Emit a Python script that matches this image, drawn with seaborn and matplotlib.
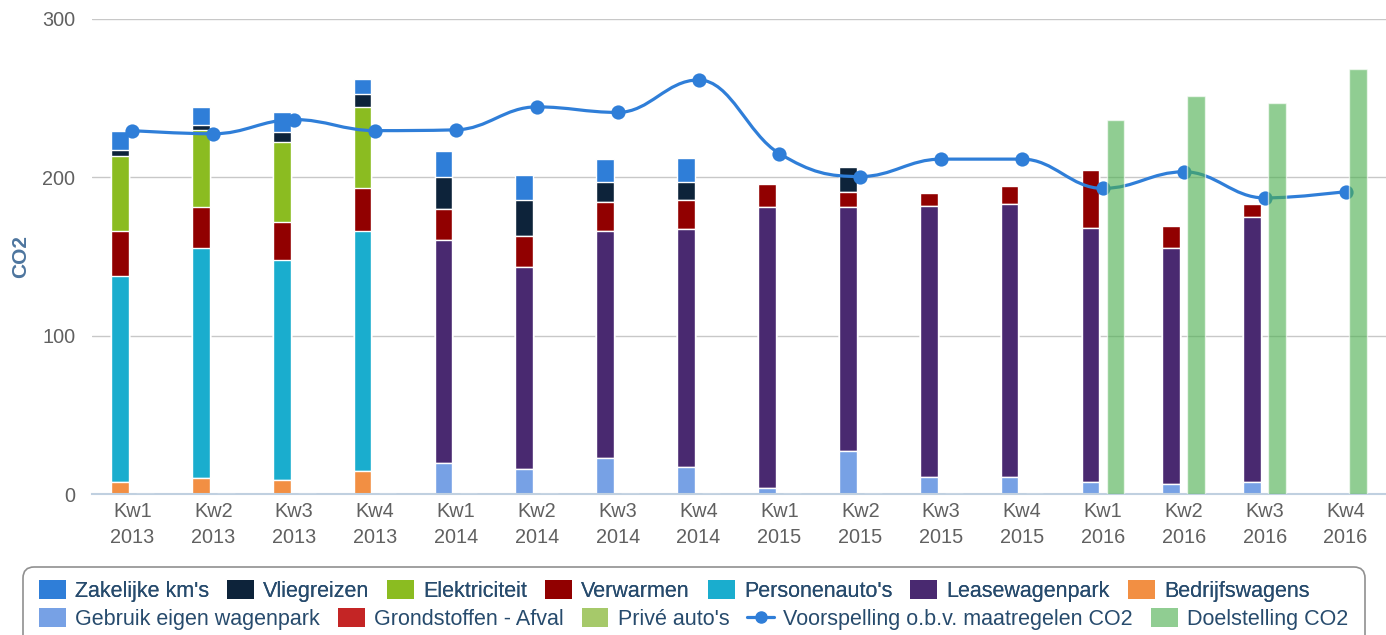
import numpy as np
import matplotlib
matplotlib.use("Agg")
import matplotlib.pyplot as plt
from matplotlib.path import Path
from matplotlib.patches import PathPatch, Patch, FancyBboxPatch
from matplotlib.lines import Line2D
import seaborn as sns

# --- data ---
kwartalen = ["Kw1", "Kw2", "Kw3", "Kw4"] * 4
jaren = ["2013"] * 4 + ["2014"] * 4 + ["2015"] * 4 + ["2016"] * 4

zakelijke_km = [12, 11.5, 13, 9.5, 16, 16, 14.5, 15.5, 0, 0, 0, 0, 0, 0, 0, 0]
vliegreizen = [3.5, 3, 6, 8, 20.5, 22.5, 12.5, 11.5, 0, 16, 0, 0, 0, 0, 0, 0]
elektriciteit = [47.5, 49, 50.5, 51, 0, 0, 0, 0, 0, 0, 0, 0, 0, 0, 0, 0]
verwarmen = [28.5, 25.5, 24, 27.5, 19.5, 19.5, 18.5, 18, 15, 9, 8, 11.5, 36.5, 14, 8, 0]
personenautos = [130, 145.5, 139, 151.5, 0, 0, 0, 0, 0, 0, 0, 0, 0, 0, 0, 0]
leasewagenpark = [0, 0, 0, 0, 141, 127.5, 143.5, 150.5, 177.5, 154.5, 171.5, 172, 160.5, 149, 167.5, 0]
bedrijfswagens = [7.5, 10, 9, 14.5, 0, 0, 0, 0, 0, 0, 0, 0, 0, 0, 0, 0]
eigen_wagenpark = [0, 0, 0, 0, 19.5, 16, 22.5, 17, 3.5, 27, 10.5, 11, 7.5, 6.5, 7.5, 0]
grondstoffen = [0] * 16
prive_autos = [0] * 16
voorspelling = [229.5, 227.5, 236.5, 229.5, 230, 244.5, 241, 261.5,
                215, 200.5, 211.5, 211.5, 193, 203.5, 187, 191]
doelstelling = [0] * 12 + [236.5, 251.5, 247, 268.5]

# stack order, top of the bar first (same as legend)
stack = [
    ("Zakelijke km's", zakelijke_km, "#2f7ed8"),
    ("Vliegreizen", vliegreizen, "#0d233a"),
    ("Elektriciteit", elektriciteit, "#8bbc21"),
    ("Verwarmen", verwarmen, "#910000"),
    ("Personenauto's", personenautos, "#1aadce"),
    ("Leasewagenpark", leasewagenpark, "#492970"),
    ("Bedrijfswagens", bedrijfswagens, "#f28f43"),
    ("Gebruik eigen wagenpark", eigen_wagenpark, "#77a1e5"),
    ("Grondstoffen - Afval", grondstoffen, "#c42525"),
    ("Privé auto's", prive_autos, "#a6c96a"),
]
line_color = "#2f7ed8"
doel_color = "#4caf50"


def spline_path(xs, ys, smoothing=1.5):
    """Highcharts-style spline through the points as a bezier path."""
    n = len(xs)
    denom = smoothing + 1
    lc = [None] * n
    rc = [None] * n
    for i in range(1, n - 1):
        px, py = xs[i], ys[i]
        lx, ly, nx, ny = xs[i - 1], ys[i - 1], xs[i + 1], ys[i + 1]
        lcx = (smoothing * px + lx) / denom
        lcy = (smoothing * py + ly) / denom
        rcx = (smoothing * px + nx) / denom
        rcy = (smoothing * py + ny) / denom
        corr = (rcy - lcy) * (rcx - px) / (rcx - lcx) + py - rcy
        lcy += corr
        rcy += corr
        if lcy > ly and lcy > py:
            lcy = max(ly, py); rcy = 2 * py - lcy
        elif lcy < ly and lcy < py:
            lcy = min(ly, py); rcy = 2 * py - lcy
        if rcy > ny and rcy > py:
            rcy = max(ny, py); lcy = 2 * py - rcy
        elif rcy < ny and rcy < py:
            rcy = min(ny, py); lcy = 2 * py - rcy
        lc[i] = (lcx, lcy)
        rc[i] = (rcx, rcy)
    verts = [(xs[0], ys[0])]
    codes = [Path.MOVETO]
    for i in range(1, n):
        c1 = rc[i - 1] or (xs[i - 1], ys[i - 1])
        c2 = lc[i] or (xs[i], ys[i])
        verts += [c1, c2, (xs[i], ys[i])]
        codes += [Path.CURVE4] * 3
    return Path(verts, codes)


sns.set_style("white")
plt.rcParams["font.family"] = ["Liberation Sans", "DejaVu Sans"]

fig = plt.figure(figsize=(13.86, 6.35), dpi=100)
ax = fig.add_axes([92 / 1386, 1 - 494 / 635, 1294 / 1386, 475 / 635])

xpos = np.arange(len(kwartalen), dtype=float)
offset = 0.155
bar_w = 0.22

# cumulative tops, drawn tallest first so every segment shows
tops = []
cum = np.zeros(len(xpos))
for name, vals, col in reversed(stack):
    cum = cum + np.array(vals, dtype=float)
    tops.append((name, cum.copy(), col))
for name, top, col in reversed(tops):
    sns.barplot(x=xpos - offset, y=top, color=col, saturation=1, native_scale=True,
                width=bar_w, edgecolor="white", linewidth=1, errorbar=None,
                zorder=1.5, ax=ax)

# forecast line (spline) with markers
ax.add_patch(PathPatch(spline_path(xpos, voorspelling), facecolor="none",
                       edgecolor=line_color, lw=2.3, zorder=2.6))
sns.scatterplot(x=xpos, y=voorspelling, color=line_color, s=105, linewidth=0,
                zorder=3, ax=ax, legend=False)

# target bars
sns.barplot(x=xpos + offset, y=doelstelling, color=doel_color, saturation=1, alpha=0.62,
            native_scale=True, width=bar_w, edgecolor="white", linewidth=1,
            errorbar=None, zorder=3.5, ax=ax)

ax.set_xlim(-0.5, 15.46)
ax.set_ylim(0, 300)
ax.set_yticks([0, 100, 200, 300])
ax.yaxis.grid(True, color="#c8c8c8", lw=1)
ax.set_axisbelow(True)
ax.set_xticks(xpos)
ax.set_xticklabels([f"{k}\n{j}" for k, j in zip(kwartalen, jaren)], linespacing=1.45)
ax.set_xticks(np.arange(-0.5, 16, 1), minor=True)
ax.tick_params(axis="x", which="major", length=0, pad=6, labelsize=14.3, labelcolor="#606060")
ax.tick_params(axis="x", which="minor", length=8, width=1.2, color="#c0d0e0")
ax.tick_params(axis="y", length=0, pad=12, labelsize=14.3, labelcolor="#606060")
for s in ["top", "right", "left"]:
    ax.spines[s].set_visible(False)
ax.spines["bottom"].set_color("#c0d0e0")
ax.spines["bottom"].set_linewidth(1.5)
ax.set_xlabel("")
ax.set_ylabel("CO2", fontsize=15, fontweight="bold", color="#4d759e")
ax.yaxis.set_label_coords(-0.048, 0.5)

# legend in two rows inside a rounded box
def handle(name, col):
    return Patch(facecolor=col, edgecolor="none", label=name)

row1 = [handle(n, c) for n, v, c in stack[:7]]
row2 = [handle(n, c) for n, v, c in stack[7:]]
row2.append(Line2D([], [], color=line_color, lw=2.3, marker="o", markersize=8,
                   label="Voorspelling o.b.v. maatregelen CO2"))
row2.append(Patch(facecolor=doel_color, alpha=0.62, edgecolor="none", label="Doelstelling CO2"))

leg_kw = dict(frameon=False, fontsize=15.5, handlelength=1.25, handleheight=0.93,
              handletextpad=0.42, columnspacing=0.84, borderpad=0, borderaxespad=0,
              labelcolor="#274b6d", loc="center left")
leg1 = fig.legend(handles=row1, ncol=len(row1), bbox_to_anchor=(39 / 1386, 1 - 591 / 635), **leg_kw)
fig.add_artist(leg1)
fig.legend(handles=row2, ncol=len(row2), bbox_to_anchor=(39 / 1386, 1 - 619 / 635), **leg_kw)
fig.add_artist(FancyBboxPatch((23 / 1386, -0.05), 1342 / 1386, 0.05 + 1 - 567 / 635,
                              boxstyle="round,pad=0,rounding_size=0.008",
                              mutation_aspect=1386 / 635, transform=fig.transFigure,
                              facecolor="none", edgecolor="#909090", lw=1.2))

fig.savefig("out.png", dpi=100)
